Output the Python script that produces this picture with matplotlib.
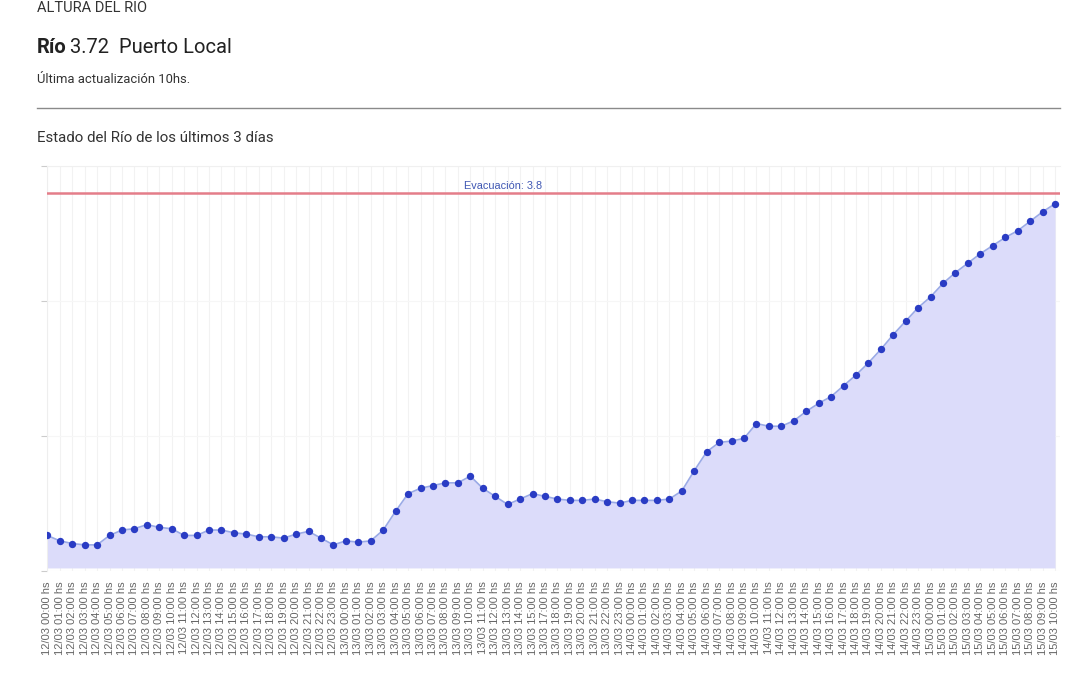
import matplotlib
matplotlib.use("Agg")
import matplotlib.pyplot as plt

# ---- data ----
horas_12 = list(range(0, 24))
horas_13 = [h for h in range(0, 24) if h != 16]   # 16:00 missing in source
horas_14 = list(range(0, 24))
horas_15 = list(range(0, 11))
etiquetas = ([f"12/03 {h:02d}:00 hs" for h in horas_12] +
             [f"13/03 {h:02d}:00 hs" for h in horas_13] +
             [f"14/03 {h:02d}:00 hs" for h in horas_14] +
             [f"15/03 {h:02d}:00 hs" for h in horas_15])

altura = [1.26, 1.22, 1.20, 1.19, 1.19, 1.26, 1.30, 1.31, 1.34, 1.32,
          1.31, 1.26, 1.26, 1.30, 1.30, 1.28, 1.27, 1.25, 1.25, 1.24,
          1.27, 1.29, 1.24, 1.19, 1.22, 1.21, 1.22, 1.30, 1.44, 1.57,
          1.61, 1.63, 1.65, 1.65, 1.70, 1.61, 1.55, 1.49, 1.53, 1.57,
          1.55, 1.53, 1.52, 1.52, 1.53, 1.51, 1.50, 1.52, 1.52, 1.52,
          1.53, 1.59, 1.74, 1.88, 1.95, 1.96, 1.98, 2.09, 2.07, 2.07,
          2.11, 2.18, 2.24, 2.29, 2.37, 2.45, 2.54, 2.64, 2.75, 2.85,
          2.95, 3.03, 3.13, 3.21, 3.28, 3.35, 3.41, 3.47, 3.52, 3.59,
          3.66, 3.72]
evacuacion = 3.8
y_ticks = [1, 2, 3, 4]

W, H = 1080, 676
fig = plt.figure(figsize=(W / 100, H / 100), dpi=100)
fig.patch.set_facecolor("white")

def fx(px):
    return px / W

def fy(py):
    return 1 - py / H

# ---- header texts ----
hfont = ["Roboto", "DejaVu Sans"]
fig.text(fx(37), fy(12.5), "ALTURA DEL RIO", family=hfont, fontsize=10.5,
         color="#333333", va="baseline", ha="left")
t1 = fig.text(fx(37), fy(53), "Río", family=hfont, fontsize=14.5,
              weight="bold", color="#222222", va="baseline", ha="left")
fig.canvas.draw()
bb = t1.get_window_extent()
fig.text(bb.x1 / W + 0.003, fy(53), "3.72  Puerto Local", family=hfont,
         fontsize=14.5, color="#222222", va="baseline", ha="left")
fig.text(fx(37), fy(83), "Última actualización 10hs.", family=hfont,
         fontsize=9.4, color="#333333", va="baseline", ha="left")
fig.add_artist(plt.Line2D([fx(37), fx(1060)], [fy(108), fy(108)],
                          color="#8a8a8a", lw=1.0))
fig.text(fx(37), fy(142), "Estado del Río de los últimos 3 días",
         family=hfont, fontsize=10.8, color="#333333", va="baseline",
         ha="left")

# ---- chart ----
left, right, top, bottom = 47.3, 1060, 166, 570.5
ax = fig.add_axes([fx(left), fy(bottom), fx(right - left), (bottom - top) / H])
ax.set_axisbelow(True)
x = list(range(len(altura)))
ax.fill_between(x, altura, 1.019, color="#dcdcfa", lw=0, zorder=1)
ax.plot(x, altura, color="#9aaae6", lw=1.2, zorder=2)
ax.scatter(x, altura, s=28, color="#2a3cc4", zorder=3, lw=0)
ax.axhline(evacuacion, color="#e47d89", lw=1.8, zorder=4)
ax.text(0.45, evacuacion + 0.018, "Evacuación: 3.8", transform=ax.get_yaxis_transform(),
        ha="center", va="bottom", fontsize=7.8, color="#3f57b3",
        family=["Liberation Sans", "DejaVu Sans"])

ax.set_xlim(0, 81.4)
ax.set_ylim(1.019, 4.0)
ax.set_xticks(x)
ax.set_xticklabels(etiquetas, rotation=90, fontsize=8, color="#666666",
                   family=["Liberation Sans", "DejaVu Sans"])
ax.set_yticks(y_ticks)
ax.set_yticklabels([])
ax.tick_params(axis="x", length=0, pad=8)
ax.tick_params(axis="y", length=4, color="#cccccc", width=0.8)
ax.grid(axis="x", color="#f2f2f2", lw=0.8)
ax.grid(axis="y", color="#f6f6f6", lw=0.8)
for s in ["right", "bottom"]:
    ax.spines[s].set_visible(False)
ax.spines["top"].set_color("#f0f0f0")
ax.spines["left"].set_color("#eeeeee")
ax.set_facecolor("white")

fig.savefig("out.png", dpi=100)
